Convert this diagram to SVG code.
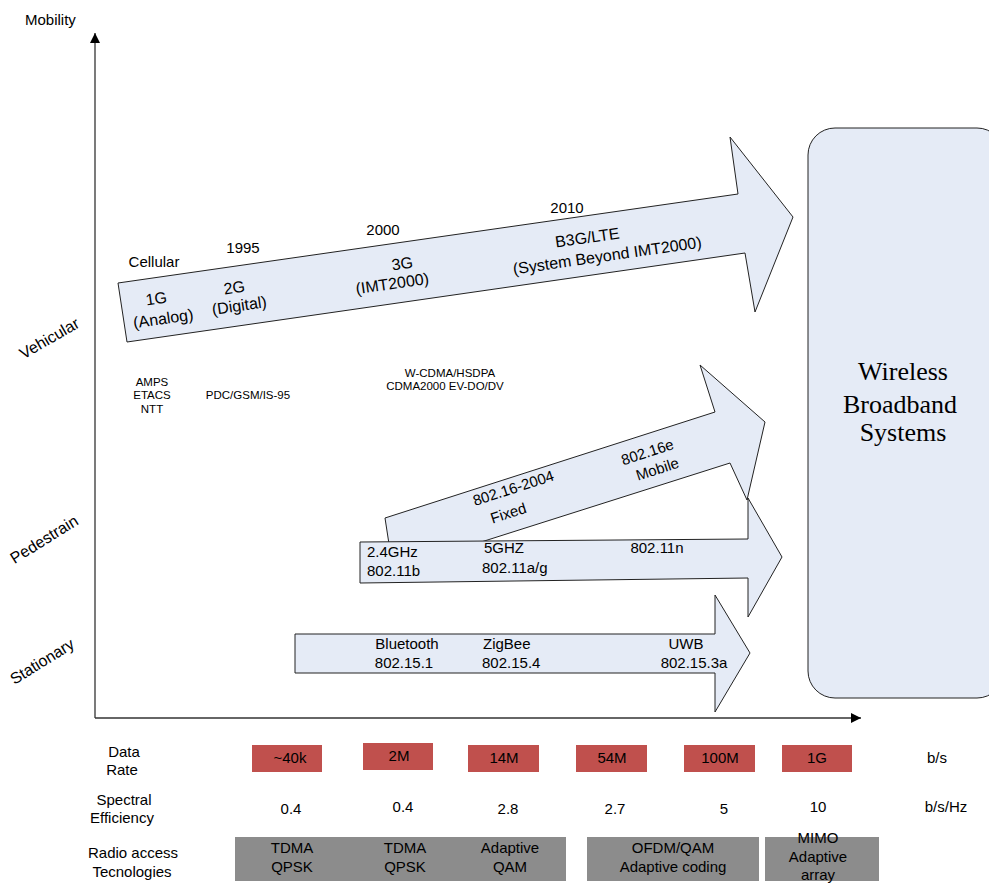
<svg xmlns="http://www.w3.org/2000/svg" width="989" height="884" viewBox="0 0 989 884">
<style>
text{font-family:"Liberation Sans",Arial,sans-serif;fill:#000}
.t15{font-size:15px}
.t16{font-size:16px}
.s{font-size:11.5px}
.m{text-anchor:middle}
.arrow{fill:#E5EBF6;stroke:#222;stroke-width:1}
.red{fill:#C0504D}
.gray{fill:#8C8C8C}
.serif{font-family:"Liberation Serif","Times New Roman",serif;font-size:26px}
</style>
<defs>
<marker id="ah" markerWidth="10" markerHeight="10" refX="10" refY="5" orient="auto" markerUnits="userSpaceOnUse">
<path d="M0,0 L10,5 L0,10 Z" fill="#000"/>
</marker>
</defs>
<rect width="989" height="884" fill="#fff"/>

<g id="connectors">
<line x1="95" y1="718" x2="95" y2="33" stroke="#333" stroke-width="1.3" marker-end="url(#ah)"/>
<line x1="95" y1="718" x2="861" y2="718" stroke="#333" stroke-width="1.3" marker-end="url(#ah)"/>
</g>

<g id="axis-labels">
<text class="t15" x="25" y="25">Mobility</text>
<text class="t16 m" transform="translate(52,343) rotate(-30)">Vehicular</text>
<text class="t16 m" transform="translate(47,544) rotate(-32)">Pedestrain</text>
<text class="t16 m" transform="translate(45,666) rotate(-32)">Stationary</text>
</g>

<g id="node-cellular">
<polygon class="arrow" points="118,283 738,194 730,137 793,217 755,312 745,253 127,342"/>
<text class="t15 m" x="154" y="267">Cellular</text>
<text class="t15 m" x="243" y="253">1995</text>
<text class="t15 m" x="383" y="235">2000</text>
<text class="t15 m" x="567" y="213">2010</text>
<text class="t16 m" transform="translate(157,304) rotate(-8.2)">1G</text>
<text class="t16 m" transform="translate(164,324) rotate(-8.2)">(Analog)</text>
<text class="t16 m" transform="translate(235,293) rotate(-8.2)">2G</text>
<text class="t16 m" transform="translate(240,311) rotate(-8.2)">(Digital)</text>
<text class="t16 m" transform="translate(403,269) rotate(-8.2)">3G</text>
<text class="t16 m" transform="translate(393,289) rotate(-8.2)">(IMT2000)</text>
<text class="t16 m" transform="translate(588,243) rotate(-8.2)">B3G/LTE</text>
<text class="t16 m" transform="translate(608,261) rotate(-8.2)">(System Beyond IMT2000)</text>
</g>

<g id="node-cellular-standards">
<text class="s m" x="152" y="386">AMPS</text>
<text class="s m" x="152" y="399">ETACS</text>
<text class="s m" x="152" y="413">NTT</text>
<text class="s m" x="248" y="399">PDC/GSM/IS-95</text>
<text class="s m" x="450" y="377">W-CDMA/HSDPA</text>
<text class="s m" x="445" y="390">CDMA2000 EV-DO/DV</text>
</g>

<g id="node-wimax">
<polygon class="arrow" points="385,518 715,412 700,365 765,422 747,500 730,463 393,570"/>
<text class="t15 m" transform="translate(515,493) rotate(-18)">802.16-2004</text>
<text class="t15 m" transform="translate(510,518) rotate(-18)">Fixed</text>
<text class="t15 m" transform="translate(649,457) rotate(-18)">802.16e</text>
<text class="t15 m" transform="translate(659,474) rotate(-18)">Mobile</text>
</g>

<g id="node-wifi">
<polygon class="arrow" points="360,542 748,539 748,498 782,557 748,617 748,578 360,583"/>
<text class="t15" x="367" y="557">2.4GHz</text>
<text class="t15" x="367" y="576">802.11b</text>
<text class="t15" x="484" y="553">5GHZ</text>
<text class="t15" x="482" y="573">802.11a/g</text>
<text class="t15 m" x="657" y="553">802.11n</text>
</g>

<g id="node-wpan">
<polygon class="arrow" points="295,634 715,634 715,595 750,653 715,712 715,673 295,673"/>
<text class="t15 m" x="407" y="649">Bluetooth</text>
<text class="t15 m" x="404" y="668">802.15.1</text>
<text class="t15" x="483" y="649">ZigBee</text>
<text class="t15" x="482" y="668">802.15.4</text>
<text class="t15 m" x="686" y="649">UWB</text>
<text class="t15 m" x="694" y="668">802.15.3a</text>
</g>

<g id="node-wbs">
<rect class="arrow" x="808" y="128" width="196" height="570" rx="27" ry="27"/>
<text class="serif m" x="903" y="380">Wireless</text>
<text class="serif m" x="900" y="413">Broadband</text>
<text class="serif m" x="903" y="441">Systems</text>
</g>

<g id="row-datarate">
<text class="t15 m" x="124" y="757">Data</text>
<text class="t15 m" x="122" y="775">Rate</text>
<rect class="red" x="252" y="745" width="70" height="27"/>
<text class="t15 m" x="290" y="763">~40k</text>
<rect class="red" x="363" y="743" width="70" height="27"/>
<text class="t15 m" x="399" y="761">2M</text>
<rect class="red" x="468" y="745" width="71" height="27"/>
<text class="t15 m" x="504" y="763">14M</text>
<rect class="red" x="576" y="745" width="71" height="27"/>
<text class="t15 m" x="612" y="763">54M</text>
<rect class="red" x="684" y="745" width="71" height="27"/>
<text class="t15 m" x="720" y="763">100M</text>
<rect class="red" x="782" y="745" width="70" height="27"/>
<text class="t15 m" x="817" y="763">1G</text>
<text class="t15 m" x="937" y="763">b/s</text>
</g>

<g id="row-efficiency">
<text class="t15 m" x="124" y="805">Spectral</text>
<text class="t15 m" x="122" y="823">Efficiency</text>
<text class="t15 m" x="291" y="814">0.4</text>
<text class="t15 m" x="403" y="812">0.4</text>
<text class="t15 m" x="508" y="814">2.8</text>
<text class="t15 m" x="615" y="814">2.7</text>
<text class="t15 m" x="724" y="814">5</text>
<text class="t15 m" x="818" y="812">10</text>
<text class="t15 m" x="946" y="812">b/s/Hz</text>
</g>

<g id="row-radio">
<text class="t15 m" x="133" y="858">Radio access</text>
<text class="t15 m" x="132" y="877">Tecnologies</text>
<rect class="gray" x="235" y="837" width="331" height="44"/>
<rect class="gray" x="587" y="837" width="172" height="44"/>
<rect class="gray" x="765" y="837" width="114" height="44"/>
<text class="t15 m" x="292" y="853">TDMA</text>
<text class="t15 m" x="292" y="872">QPSK</text>
<text class="t15 m" x="405" y="853">TDMA</text>
<text class="t15 m" x="405" y="872">QPSK</text>
<text class="t15 m" x="510" y="853">Adaptive</text>
<text class="t15 m" x="510" y="872">QAM</text>
<text class="t15 m" x="673" y="853">OFDM/QAM</text>
<text class="t15 m" x="673" y="872">Adaptive coding</text>
<text class="t15 m" x="818" y="843">MIMO</text>
<text class="t15 m" x="818" y="862">Adaptive</text>
<text class="t15 m" x="818" y="880">array</text>
</g>
</svg>
